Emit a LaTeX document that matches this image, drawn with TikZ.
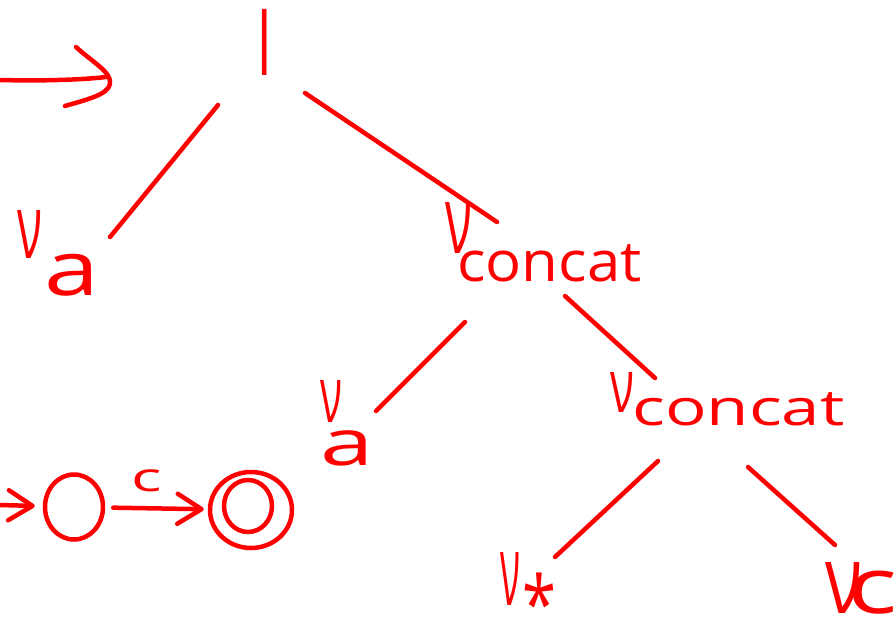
\documentclass[tikz,border=0pt]{standalone}
\usepackage{fontspec}
\setmainfont{Open Sans}
\usetikzlibrary{shapes.geometric,arrows.meta}
% raised, resized nu mark: #1 raise, #2 width, #3 height
\newcommand\numark[3]{\raisebox{#1}{\resizebox{#2}{#3}{ν}}}
\begin{document}
\begin{tikzpicture}[x=1pt,y=-1pt,line width=4.5pt,line cap=round,line join=round,red]
\useasboundingbox (0,0) rectangle (896,619);
\tikzset{
 lbl/.style={inner sep=0pt,text=red,anchor=base west},
 edge/.style={draw=red,line width=4.5pt},
 state/.style={ellipse,draw=red,line width=4.5pt,inner sep=0pt},
 tip/.style={-{Straight Barb[length=24pt,width=30pt,round]}}
}
% tree
\node[inner sep=0pt,text=red,font=\fontsize{66}{66}\selectfont] (root) at (265,42) {|};
\node[lbl,font=\fontsize{76}{76}\selectfont] (a1) at (15,295)
  {\numark{37pt}{25pt}{48pt}\kern2pt\scalebox{1.3}[1]{a}};
\node[lbl,font=\fontsize{56}{56}\selectfont] (c1) at (443,281)
  {\numark{28pt}{27pt}{51pt}\kern-15pt\scalebox{1.07}[1]{concat}};
\node[lbl,font=\fontsize{64}{64}\selectfont] (a2) at (318,465)
  {\numark{43pt}{22pt}{42pt}\kern-22pt\scalebox{1.5}[1]{a}};
\node[lbl,font=\fontsize{50}{50}\selectfont] (c2) at (608,425)
  {\numark{13pt}{24pt}{40pt}\kern-2pt\scalebox{1.38}[1]{concat}};
\node[lbl,font=\fontsize{56}{56}\selectfont] (st) at (498,605)
  {\numark{0pt}{20pt}{53pt}\kern2pt\raisebox{-27pt}{\scalebox{1.1}[1.4]{*}}};
\node[lbl,font=\fontsize{78}{78}\selectfont] (cc) at (823,613)
  {\numark{0pt}{37pt}{51pt}\kern-15pt\scalebox{1.35}[1]{c}};
\draw[edge] ([shift={(-47,63)}]root.center) -- ([shift={(95,-58)}]a1.base west);
\draw[edge] ([shift={(40,51)}]root.center) -- ([shift={(54,-59)}]c1.base west);
\draw[edge] ([shift={(22,41)}]c1.base west) -- ([shift={(58,-54)}]a2.base west);
\draw[edge] ([shift={(122,15)}]c1.base west) -- ([shift={(47,-47)}]c2.base west);
\draw[edge] ([shift={(50,36)}]c2.base west) -- ([shift={(57,-48)}]st.base west);
\draw[edge] ([shift={(140,42)}]c2.base west) -- ([shift={(12,-68)}]cc.base west);
% top-left arrow
\coordinate (inA) at (0,80);
\coordinate (inB) at (106,77);
\draw (inA) .. controls (40,81) and (80,80) .. (inB);
\draw (76,47) .. controls (92,62) and (112,72) .. (110,84) .. controls (108,95) and (85,100) .. (65,106);
% automaton
\node[state,minimum width=58pt,minimum height=65pt] (s1) at (74,507) {};
\node[state,minimum width=82pt,minimum height=76pt] (s2) at (251,510) {};
\node[state,minimum width=48pt,minimum height=52pt] (s2i) at (248,506) {};
\coordinate (init) at (0,505);
\draw[tip,shorten >=8pt] (init) -- (s1);
\draw[tip,shorten <=8pt,shorten >=4pt] (s1) -- node[pos=0.4,above=14pt,inner sep=0pt,text=red,font=\fontsize{40}{40}\selectfont]{\scalebox{1.6}[1]{c}} (s2);
\end{tikzpicture}
\end{document}
